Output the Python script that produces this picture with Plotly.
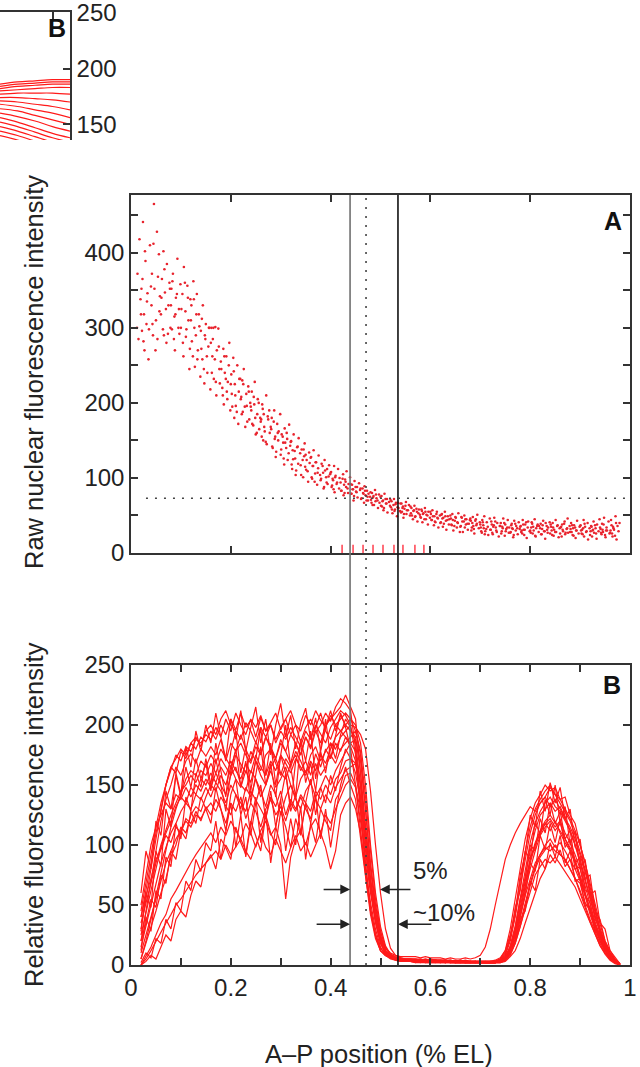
import plotly.graph_objects as go

FONT = "Liberation Sans, Arial, Helvetica, sans-serif"
W, H = 640, 1067

# ---------------- Panel A: raw nuclear fluorescence (one dot per nucleus) ----------------
# positions in thousandths of egg length
a_pos_milli = [
    12, 13, 15, 17, 19,
    21, 22, 24, 26, 27, 29, 31, 33, 35, 38,
    41, 42, 44, 46, 47, 50, 52, 53, 56, 58,
    60, 62, 65, 66, 68, 71, 72, 75, 77, 79,
    81, 82, 84, 87, 88, 90, 93, 95, 96, 99,
    100, 103, 105, 106, 109, 110, 113, 115, 117, 119,
    121, 122, 125, 127, 128, 131, 132, 134, 137, 139,
    140, 143, 144, 147, 149, 150, 153, 155, 156, 159,
    161, 163, 164, 166, 169, 171, 172, 175, 177, 178,
    180, 183, 185, 186, 188, 191, 193, 194, 197, 199,
    201, 202, 205, 207, 208, 210, 213, 215, 216, 219,
    220, 223, 224, 226, 229, 231, 232, 235, 237, 239,
    241, 242, 245, 247, 248, 250, 253, 254, 257, 259,
    260, 263, 265, 266, 268, 271, 272, 275, 277, 278,
    281, 282, 284, 287, 289, 290, 293, 295, 296, 299,
    300, 302, 305, 307, 308, 311, 313, 314, 317, 319,
    321, 323, 324, 326, 329, 330, 333, 335, 336, 339,
    340, 342, 345, 347, 348, 351, 352, 355, 357, 358,
    361, 363, 364, 366, 369, 370, 373, 375, 376, 379,
    380, 382, 385, 386, 388, 391, 393, 394, 397, 399,
    401, 403, 404, 407, 408, 410, 413, 415, 417, 418,
    420, 422, 425, 426, 429, 431, 432, 435, 436, 439,
    441, 443, 444, 446, 448, 451, 453, 454, 457, 459,
    460, 462, 465, 467, 468, 470, 473, 475, 476, 479,
    481, 483, 484, 486, 489, 490, 492, 495, 497, 498,
    500, 503, 505, 506, 508, 511, 513, 514, 517, 519,
    521, 522, 524, 527, 529, 530, 533, 535, 536, 539,
    540, 543, 545, 546, 548, 551, 552, 555, 557, 559,
    561, 562, 565, 567, 568, 570, 573, 574, 577, 579,
    580, 583, 584, 586, 589, 591, 592, 595, 596, 599,
    601, 603, 604, 607, 608, 610, 613, 615, 616, 619,
    620, 622, 625, 626, 629, 631, 632, 635, 637, 638,
    641, 643, 644, 646, 649, 650, 653, 655, 656, 659,
    660, 663, 665, 667, 668, 671, 672, 675, 677, 679,
    681, 682, 685, 686, 688, 691, 693, 694, 697, 699,
    700, 703, 704, 707, 708, 710, 713, 715, 716, 719,
    720, 722, 725, 727, 728, 731, 733, 734, 737, 739,
    741, 743, 744, 746, 749, 750, 752, 755, 757, 758,
    760, 763, 764, 766, 768, 771, 772, 775, 777, 779,
    781, 782, 785, 787, 788, 790, 793, 795, 796, 799,
    800, 803, 805, 806, 809, 811, 812, 815, 817, 818,
    821, 823, 824, 826, 829, 830, 833, 835, 836, 839,
    840, 842, 845, 847, 848, 851, 852, 855, 857, 859,
    861, 863, 864, 866, 869, 870, 873, 875, 876, 879,
    880, 882, 885, 886, 888, 891, 893, 894, 897, 899,
    901, 903, 904, 907, 908, 910, 913, 915, 916, 919,
    920, 922, 925, 927, 928, 931, 933, 934, 937, 939,
    941, 943, 944, 946, 948, 951, 953, 954, 957, 959,
    960, 962, 965, 966, 968, 971, 973, 975, 977, 979,
    # second batch of nuclei
    20, 23, 25, 28, 32, 36,
    40, 43, 45, 49, 54, 57,
    61, 64, 67, 70, 74, 78,
    80, 83, 86, 89, 92, 97,
    101, 104, 108, 111, 114, 118,
    120, 124, 126, 130, 133, 136,
    141, 142, 146, 148, 152, 157,
    160, 162, 165, 168, 170, 176,
    181, 184, 187, 190, 192, 196,
    200, 203, 206, 209, 212, 217,
    221, 222, 225, 228, 233, 236,
    240, 243, 246, 249, 252, 256,
    261, 262, 264, 267, 270, 274,
    280, 283, 286, 288, 291, 294,
    301, 304, 306, 309, 312, 316,
    320, 322, 325, 328, 331, 334,
    341, 344, 346, 349, 350, 354,
    360, 362, 365, 368, 371, 374,
    381, 384, 387, 389, 392, 396,
    400, 402, 405, 406, 409, 412,
    421, 424, 427, 428, 430, 434,
    440, 442, 445, 447, 450, 452,
    461, 464, 466, 469, 472, 474,
    480, 482, 485, 487, 491, 494,
    501, 502, 504, 507, 510, 512,
    520, 523, 526, 528, 531, 534,
    541, 542, 544, 547, 550, 553,
    560, 563, 566, 569, 572, 576,
    581, 582, 585, 588, 590, 594,
    600, 602, 605, 609, 612, 614,
    621, 623, 624, 627, 630, 634,
    640, 642, 645, 648, 651, 654,
    661, 662, 664, 669, 670, 674,
    680, 683, 684, 687, 690, 692,
    701, 702, 705, 706, 709, 712,
    721, 723, 724, 726, 730, 732,
    740, 742, 745, 748, 751, 754,
    761, 762, 765, 767, 770, 774,
    780, 783, 784, 786, 789, 792,
    801, 802, 804, 807, 810, 814,
    820, 822, 825, 828, 831, 834,
    841, 843, 844, 846, 850, 854,
    860, 862, 865, 868, 871, 874,
    881, 883, 884, 887, 890, 892,
    900, 902, 905, 906, 909, 912,
    921, 923, 924, 926, 930, 932,
    940, 942, 945, 947, 950, 952,
    961, 963, 964, 967, 970, 972,
]
a_intensity = [
    300, 372, 285, 418, 338,
    352, 296, 441, 318, 270, 389, 305, 346, 258, 410,
    330, 372, 290, 465, 352, 310, 428, 285, 398, 342,
    318, 365, 402, 290, 347, 280, 385, 330, 360, 300,
    352, 298, 372, 315, 270, 340, 392, 300, 325, 358,
    300, 345, 262, 381, 322, 288, 356, 310, 245, 338,
    330, 282, 362, 300, 248, 318, 345, 270, 302, 235,
    296, 258, 330, 226, 285, 305, 240, 275, 300, 218,
    300, 262, 285, 232, 301, 210, 270, 299, 245, 226,
    255, 220, 272, 198, 240, 262, 205, 228, 280, 190,
    238, 212, 260, 180, 225, 196, 250, 172, 215, 232,
    205, 230, 188, 245, 168, 212, 196, 222, 178, 200,
    190, 215, 170, 198, 228, 158, 185, 205, 165, 180,
    175, 198, 150, 185, 162, 210, 145, 178, 190, 160,
    165, 180, 140, 190, 155, 128, 172, 150, 162, 185,
    131, 158, 147, 118, 166, 140, 152, 124, 171, 143,
    149, 112, 137, 158, 126, 104, 141, 119, 153, 133,
    117, 138, 101, 129, 146, 111, 124, 95, 134, 120,
    128, 99, 116, 137, 106, 121, 91, 113, 130, 104,
    97, 119, 107, 86, 124, 101, 112, 92, 117, 105,
    108, 90, 99, 116, 81, 103, 94, 112, 86, 100,
    94, 83, 105, 77, 98, 88, 109, 80, 92, 101,
    79, 91, 85, 70, 96, 82, 88, 74, 93, 84,
    86, 73, 80, 67, 89, 77, 83, 70, 79, 75,
    71, 80, 64, 76, 84, 69, 73, 60, 78, 67,
    75, 62, 70, 57, 79, 66, 72, 54, 68, 63,
    61, 69, 53, 72, 58, 65, 49, 67, 60, 56,
    66, 55, 62, 47, 59, 68, 52, 57, 64, 50,
    53, 60, 45, 57, 63, 49, 55, 42, 58, 51,
    48, 56, 41, 53, 60, 45, 51, 38, 55, 47,
    52, 44, 57, 37, 49, 41, 55, 46, 34, 50,
    40, 51, 35, 47, 55, 43, 31, 49, 38, 45,
    46, 37, 52, 30, 43, 48, 34, 40, 53, 28,
    35, 47, 28, 42, 50, 38, 45, 31, 39, 44,
    43, 30, 48, 36, 26, 45, 39, 51, 33, 41,
    38, 27, 44, 33, 49, 29, 41, 35, 24, 46,
    31, 42, 25, 37, 47, 34, 28, 40, 22, 36,
    40, 29, 35, 46, 23, 38, 32, 44, 27, 34,
    27, 39, 33, 21, 43, 30, 36, 25, 41, 32,
    36, 28, 44, 31, 24, 38, 20, 34, 42, 29,
    30, 41, 26, 35, 45, 22, 33, 38, 28, 36,
    39, 25, 32, 43, 29, 19, 36, 27, 34, 41,
    26, 35, 40, 23, 31, 44, 28, 37, 21, 33,
    34, 22, 38, 29, 42, 25, 32, 46, 27, 36,
    28, 40, 24, 33, 37, 20, 30, 43, 26, 35,
    37, 26, 31, 44, 22, 35, 29, 40, 18, 33,
    24, 36, 30, 42, 27, 33, 19, 38, 29, 45,
    32, 25, 39, 28, 47, 21, 34, 30, 42, 26,
    27, 44, 22, 35, 31, 49, 18, 36, 29, 40,
    # second batch of nuclei
    318, 365, 282, 402, 335, 298,
    355, 305, 412, 270, 368, 322,
    340, 298, 378, 325, 292, 352,
    330, 362, 285, 318, 345, 292,
    325, 280, 360, 298, 340, 272,
    310, 262, 338, 290, 258, 318,
    272, 312, 245, 290, 262, 300,
    280, 240, 300, 258, 228, 275,
    245, 210, 262, 232, 215, 250,
    225, 195, 242, 210, 188, 232,
    208, 185, 225, 195, 175, 215,
    195, 172, 208, 180, 160, 200,
    178, 155, 192, 168, 148, 182,
    168, 142, 175, 152, 135, 160,
    138, 155, 126, 147, 160, 133,
    148, 118, 125, 136, 110, 142,
    104, 124, 138, 115, 131, 109,
    127, 101, 116, 95, 121, 107,
    99, 116, 88, 110, 94, 102,
    107, 88, 97, 85, 101, 92,
    83, 99, 91, 80, 95, 86,
    92, 79, 85, 76, 88, 81,
    72, 86, 79, 83, 70, 75,
    81, 67, 74, 64, 78, 70,
    63, 76, 69, 60, 72, 66,
    71, 58, 64, 56, 67, 61,
    54, 66, 60, 52, 63, 57,
    62, 50, 56, 48, 59, 53,
    47, 58, 52, 45, 55, 50,
    55, 44, 49, 42, 52, 47,
    41, 52, 46, 39, 49, 44,
    50, 38, 44, 36, 47, 41,
    36, 48, 42, 34, 45, 39,
    46, 34, 40, 32, 43, 37,
    34, 29, 41, 37, 25, 32,
    31, 38, 27, 35, 42, 30,
    36, 26, 33, 40, 29, 34,
    28, 37, 32, 24, 39, 33,
    35, 30, 26, 38, 31, 41,
    27, 34, 39, 30, 23, 36,
    33, 25, 37, 29, 40, 31,
    38, 30, 24, 34, 28, 36,
    26, 35, 31, 39, 27, 33,
    32, 28, 37, 23, 34, 30,
    36, 30, 25, 33, 39, 28,
    29, 35, 22, 31, 37, 26,
    34, 27, 31, 38, 24, 30,
    30, 37, 26, 33, 23, 40,
]
threshold_level = 73
boundary_left = 0.439     # solid grey line
boundary_mid = 0.471      # dotted line
boundary_right = 0.535    # solid black line
rug_pos = [0.423, 0.445, 0.465, 0.485, 0.505, 0.527, 0.545, 0.569, 0.587]
rug_height = 11

# ---------------- Panel B: relative fluorescence profiles ----------------
b_pos = [0.02, 0.03, 0.04, 0.05, 0.06, 0.07, 0.08, 0.09, 0.10, 0.11, 0.12, 0.13, 0.14, 0.15,
         0.16, 0.17, 0.18, 0.19, 0.20, 0.21, 0.22, 0.23, 0.24, 0.25, 0.26, 0.27, 0.28, 0.29,
         0.30, 0.31, 0.32, 0.33, 0.34, 0.35, 0.36, 0.37, 0.38, 0.39, 0.40, 0.41, 0.42,
         0.43, 0.44, 0.45, 0.46, 0.47, 0.48, 0.49, 0.50, 0.51, 0.52, 0.53, 0.54, 0.55,
         0.56, 0.57, 0.58, 0.59, 0.60, 0.61, 0.62, 0.63, 0.64, 0.65, 0.66, 0.67, 0.68,
         0.69, 0.70, 0.71, 0.72,
         0.73, 0.74, 0.75, 0.76, 0.77, 0.78, 0.79, 0.80, 0.81, 0.82, 0.83, 0.84, 0.85,
         0.86, 0.87, 0.88, 0.89, 0.90, 0.91, 0.92, 0.93, 0.94, 0.95, 0.96, 0.97, 0.98]

profile_01 = [40, 62, 85, 110, 128, 150, 165, 160, 178, 172, 185, 180, 190, 186,
              195, 188, 200, 192, 205, 196, 210, 198, 204, 190, 206, 195, 200, 188, 198, 205, 192, 200, 186, 198, 205, 194, 200, 210, 203, 215, 222,
              218, 212, 180, 130, 85, 48, 25, 12, 8, 6, 5, 4, 4,
              4, 3, 4, 3, 3, 4, 3, 2, 3, 3, 2, 3, 2, 2, 3, 2, 3,
              3, 5, 12, 30, 55, 80, 105, 122, 135, 142, 150, 145, 148, 138, 140, 125, 118, 100, 85, 65, 48, 30, 18, 8, 3, 1]
profile_02 = [5, 18, 30, 45, 60, 72, 90, 100, 115, 110, 125, 132, 128, 140,
              150, 145, 158, 150, 165, 155, 148, 162, 152, 170, 158, 150, 165, 172, 160, 155, 168, 175, 162, 170, 158, 176, 165, 180, 172, 185, 178,
              190, 182, 170, 140, 100, 65, 38, 20, 10, 6, 5, 4, 3,
              3, 3, 2, 3, 2, 2, 3, 2, 2, 2, 3, 2, 2, 2, 2, 3, 2,
              2, 2, 4, 10, 22, 40, 62, 80, 95, 108, 115, 120, 112, 118, 105, 98, 88, 75, 60, 45, 32, 20, 12, 6, 2, 0]
profile_03 = [0, 8, 15, 25, 35, 42, 55, 62, 70, 78, 85, 92, 98, 105,
              110, 102, 115, 108, 120, 112, 105, 118, 110, 98, 112, 120, 108, 115, 100, 55, 90, 105, 112, 100, 115, 122, 110, 125, 118, 130, 140,
              150, 155, 148, 120, 88, 60, 35, 18, 9, 6, 4, 3, 3,
              3, 2, 3, 2, 2, 3, 2, 2, 3, 2, 2, 2, 2, 3, 2, 2, 2,
              2, 3, 6, 15, 28, 42, 58, 72, 85, 92, 98, 95, 100, 92, 88, 80, 72, 60, 48, 36, 26, 16, 10, 5, 2, 0]
profile_04 = [20, 45, 70, 95, 120, 138, 150, 165, 158, 170, 176, 168, 180, 174,
              182, 175, 188, 170, 185, 178, 192, 180, 170, 186, 176, 190, 182, 172, 188, 178, 168, 185, 175, 190, 180, 195, 185, 200, 205, 210, 215,
              225, 215, 205, 160, 110, 70, 40, 22, 12, 8, 6, 5, 5,
              5, 4, 5, 4, 4, 4, 3, 4, 3, 3, 4, 3, 3, 3, 3, 3, 3,
              3, 4, 8, 20, 40, 65, 88, 110, 125, 135, 140, 148, 142, 135, 128, 120, 108, 95, 80, 62, 45, 30, 18, 10, 4, 1]
profile_05 = [50, 75, 100, 115, 125, 135, 130, 142, 138, 148, 140, 150, 145, 155,
              148, 160, 150, 142, 158, 165, 150, 145, 162, 155, 140, 150, 162, 148, 155, 165, 150, 140, 155, 162, 150, 168, 158, 165, 175, 168, 180,
              185, 190, 195, 175, 130, 85, 50, 28, 15, 8, 6, 5, 4,
              4, 4, 3, 4, 3, 3, 3, 3, 3, 2, 3, 3, 2, 3, 2, 2, 2,
              2, 3, 5, 12, 25, 45, 68, 88, 100, 110, 118, 112, 120, 110, 102, 95, 85, 72, 58, 42, 30, 20, 12, 6, 2, 0]
profile_06 = [30, 55, 80, 105, 130, 150, 162, 175, 170, 182, 178, 188, 185, 192,
              188, 198, 190, 205, 195, 210, 200, 192, 205, 198, 208, 195, 202, 210, 196, 205, 212, 200, 195, 208, 200, 212, 204, 198, 208, 200, 205,
              210, 205, 200, 185, 150, 100, 60, 32, 16, 9, 6, 5, 4,
              4, 4, 4, 3, 4, 3, 3, 3, 3, 3, 3, 2, 3, 2, 3, 2, 2,
              3, 4, 7, 15, 32, 55, 80, 102, 118, 128, 135, 140, 132, 128, 120, 112, 100, 88, 72, 56, 40, 26, 15, 8, 3, 1]
profile_07 = [0, 5, 12, 20, 28, 35, 42, 50, 55, 62, 68, 75, 80, 85,
              90, 95, 88, 100, 92, 98, 105, 95, 88, 100, 110, 98, 92, 105, 95, 85, 98, 108, 95, 102, 90, 100, 110, 98, 80, 95, 125,
              135, 140, 130, 110, 80, 52, 30, 15, 8, 5, 4, 3, 3,
              3, 2, 2, 2, 2, 2, 2, 2, 2, 2, 2, 2, 2, 2, 2, 2, 2,
              2, 2, 4, 8, 18, 32, 48, 62, 75, 82, 88, 85, 90, 84, 78, 72, 65, 55, 45, 35, 25, 16, 9, 4, 1, 0]
profile_08 = [35, 52, 68, 85, 100, 112, 125, 135, 145, 150, 158, 152, 162, 158,
              168, 160, 172, 165, 158, 175, 168, 160, 178, 170, 162, 175, 180, 168, 158, 172, 165, 178, 170, 160, 175, 182, 170, 178, 185, 180, 190,
              195, 200, 198, 192, 180, 145, 100, 60, 30, 14, 8, 6, 5,
              5, 5, 4, 5, 4, 4, 4, 4, 3, 4, 3, 3, 3, 3, 3, 3, 3,
              4, 6, 12, 25, 45, 70, 95, 115, 130, 138, 145, 150, 142, 138, 130, 122, 112, 100, 85, 68, 50, 34, 20, 10, 4, 1]
profile_09 = [10, 25, 40, 55, 70, 85, 95, 105, 112, 120, 115, 125, 122, 130,
              135, 128, 140, 132, 125, 142, 135, 128, 145, 138, 130, 122, 140, 132, 145, 125, 138, 130, 142, 135, 128, 145, 138, 150, 142, 155, 160,
              170, 172, 160, 135, 100, 68, 40, 20, 10, 6, 5, 4, 3,
              3, 3, 3, 2, 3, 2, 2, 3, 2, 2, 2, 2, 2, 2, 2, 2, 2,
              2, 3, 6, 14, 28, 48, 70, 88, 102, 112, 120, 125, 118, 112, 105, 96, 86, 74, 60, 46, 33, 22, 13, 6, 2, 0]
profile_10 = [45, 70, 92, 115, 135, 150, 165, 172, 180, 175, 185, 190, 182, 195,
              200, 192, 205, 212, 200, 195, 188, 202, 195, 185, 198, 190, 200, 185, 195, 188, 198, 190, 182, 195, 188, 200, 192, 185, 198, 205, 212,
              208, 200, 175, 125, 80, 45, 24, 12, 8, 6, 5, 5, 4,
              4, 4, 3, 4, 3, 3, 3, 3, 3, 3, 3, 2, 3, 3, 2, 2, 2,
              3, 4, 6, 14, 30, 52, 75, 95, 112, 125, 130, 135, 128, 132, 122, 115, 105, 92, 78, 60, 44, 28, 16, 8, 3, 1]
profile_11 = [15, 32, 50, 68, 85, 98, 110, 118, 128, 135, 130, 142, 138, 148,
              140, 152, 145, 135, 150, 142, 130, 148, 140, 155, 145, 132, 150, 142, 125, 140, 150, 138, 130, 145, 152, 140, 148, 158, 150, 162, 170,
              178, 185, 188, 170, 128, 82, 48, 25, 12, 7, 5, 4, 4,
              4, 3, 3, 3, 3, 3, 3, 2, 3, 2, 2, 3, 2, 2, 2, 2, 2,
              2, 3, 5, 10, 20, 35, 52, 68, 82, 92, 100, 105, 98, 102, 95, 88, 80, 70, 58, 45, 34, 24, 15, 8, 3, 0]
profile_12 = [25, 45, 62, 80, 98, 110, 120, 132, 140, 135, 148, 142, 155, 150,
              160, 152, 165, 158, 170, 162, 155, 168, 160, 175, 165, 158, 170, 162, 175, 168, 160, 172, 165, 158, 170, 162, 175, 168, 180, 190, 195,
              200, 195, 190, 160, 115, 72, 42, 22, 14, 10, 8, 7, 7,
              7, 7, 6, 7, 6, 6, 6, 5, 6, 5, 5, 6, 5, 6, 8, 15, 30,
              50, 70, 88, 100, 110, 118, 125, 132, 128, 135, 140, 132, 138, 130, 122, 112, 100, 85, 70, 55, 40, 28, 18, 10, 4, 1]
profile_13 = [5, 20, 38, 58, 78, 98, 115, 130, 142, 155, 162, 158, 170, 165,
              175, 168, 180, 172, 165, 178, 185, 175, 168, 182, 175, 190, 180, 172, 185, 178, 192, 185, 175, 190, 182, 198, 210, 195, 188, 200, 195,
              190, 185, 178, 150, 105, 65, 36, 18, 10, 6, 5, 4, 4,
              4, 3, 4, 3, 3, 3, 3, 3, 2, 3, 2, 2, 3, 2, 2, 2, 2,
              2, 3, 5, 12, 26, 45, 66, 85, 100, 110, 118, 122, 115, 120, 110, 102, 92, 80, 66, 50, 36, 24, 14, 7, 2, 0]
profile_14 = [40, 58, 72, 88, 96, 108, 102, 115, 110, 122, 118, 128, 120, 132,
              125, 138, 130, 118, 135, 128, 140, 122, 135, 128, 115, 130, 138, 125, 132, 120, 135, 128, 140, 130, 122, 138, 130, 142, 135, 148, 155,
              162, 165, 168, 150, 115, 78, 45, 24, 12, 7, 5, 4, 4,
              4, 3, 3, 3, 3, 3, 2, 3, 2, 2, 2, 2, 2, 2, 2, 2, 2,
              2, 3, 4, 9, 18, 32, 50, 66, 80, 90, 96, 100, 95, 92, 88, 80, 72, 62, 50, 38, 28, 18, 10, 5, 2, 0]
profile_15 = [12, 40, 28, 62, 55, 90, 82, 118, 105, 140, 128, 160, 148, 172,
              150, 185, 162, 140, 178, 195, 160, 182, 145, 170, 198, 158, 185, 150, 175, 200, 165, 140, 188, 170, 195, 155, 180, 205, 172, 190, 210,
              198, 180, 150, 112, 75, 45, 26, 14, 9, 7, 6, 5, 5,
              5, 5, 4, 4, 5, 4, 4, 3, 4, 3, 3, 4, 3, 3, 3, 3, 3,
              3, 5, 10, 22, 48, 62, 95, 88, 120, 108, 138, 125, 150, 118, 132, 100, 112, 80, 88, 58, 62, 35, 30, 12, 6, 1]
profile_16 = [2, 10, 6, 22, 18, 38, 30, 52, 45, 70, 62, 88, 78, 102,
              95, 120, 88, 112, 135, 98, 125, 90, 118, 140, 102, 128, 85, 115, 138, 95, 122, 100, 132, 88, 118, 142, 105, 130, 98, 125, 150,
              165, 150, 138, 105, 72, 42, 22, 12, 8, 6, 5, 4, 4,
              4, 4, 3, 3, 4, 3, 3, 3, 3, 2, 3, 2, 2, 3, 2, 2, 2,
              2, 3, 5, 12, 20, 38, 45, 70, 62, 88, 80, 102, 90, 108, 85, 95, 70, 72, 50, 48, 28, 25, 12, 8, 3, 0]
profile_17 = [28, 60, 48, 95, 82, 130, 115, 160, 142, 182, 165, 195, 178, 200,
              185, 210, 190, 172, 205, 188, 212, 178, 198, 215, 185, 205, 175, 200, 218, 190, 208, 180, 202, 214, 188, 206, 178, 198, 212, 195, 208,
              200, 205, 195, 178, 140, 95, 55, 28, 14, 9, 7, 6, 5,
              5, 5, 5, 4, 5, 4, 4, 4, 4, 3, 4, 3, 3, 3, 3, 3, 3,
              3, 4, 9, 24, 42, 75, 92, 125, 115, 145, 128, 152, 135, 148, 122, 130, 98, 105, 72, 75, 45, 38, 20, 12, 5, 1]
profile_18 = [0, 3, 8, 5, 15, 25, 20, 38, 45, 40, 58, 70, 65, 85,
              92, 80, 105, 98, 88, 115, 102, 92, 120, 108, 95, 125, 110, 100, 128, 115, 98, 122, 108, 135, 118, 102, 130, 120, 112, 138, 145,
              158, 160, 150, 128, 95, 62, 38, 20, 11, 7, 5, 4, 4,
              4, 3, 3, 3, 3, 3, 3, 2, 3, 2, 2, 2, 2, 2, 2, 2, 2,
              2, 2, 3, 7, 12, 22, 35, 48, 60, 72, 80, 92, 85, 96, 82, 88, 72, 68, 52, 45, 30, 22, 12, 6, 2, 0]
profile_19 = [60, 95, 80, 120, 108, 145, 130, 158, 140, 165, 148, 172, 155, 168,
              145, 172, 150, 128, 162, 180, 148, 170, 135, 158, 182, 150, 168, 140, 175, 160, 132, 170, 185, 152, 168, 145, 178, 160, 185, 172, 192,
              205, 198, 185, 150, 108, 68, 40, 22, 12, 8, 6, 5, 5,
              5, 4, 4, 5, 4, 4, 3, 4, 3, 3, 3, 3, 3, 2, 3, 2, 2,
              2, 3, 6, 16, 32, 55, 72, 100, 95, 122, 110, 135, 118, 128, 105, 112, 85, 90, 62, 60, 38, 30, 16, 9, 3, 0]
profile_20 = [20, 35, 55, 48, 75, 68, 95, 88, 112, 105, 128, 118, 140, 130,
              118, 148, 130, 112, 142, 155, 125, 140, 108, 135, 150, 122, 145, 115, 138, 160, 128, 142, 110, 135, 155, 125, 148, 135, 158, 145, 165,
              180, 172, 168, 140, 102, 66, 38, 20, 11, 7, 6, 5, 4,
              4, 4, 3, 4, 3, 3, 3, 3, 2, 3, 3, 2, 2, 2, 2, 2, 2,
              2, 3, 5, 10, 24, 40, 58, 85, 78, 108, 96, 118, 102, 122, 98, 105, 80, 82, 58, 52, 32, 26, 14, 7, 2, 0]
profiles = [profile_01, profile_02, profile_03, profile_04, profile_05, profile_06, profile_07,
            profile_08, profile_09, profile_10, profile_11, profile_12, profile_13, profile_14,
            profile_15, profile_16, profile_17, profile_18, profile_19, profile_20]

# arrows marking the 5% and ~10% widths (x positions in EL, levels in panel-B units)
arrow5_level = 63
arrow5_left_tail, arrow5_right_tip, arrow5_right_tail = 0.383, 0.499, 0.563
arrow10_level = 34
arrow10_left_tail, arrow10_right_tail = 0.369, 0.605
label5_pos, label5_level = 0.561, 79
label10_pos, label10_level = 0.561, 44

# ---------------- Inset fragment (top-left corner) ----------------
inset_x = [0, 0.25, 0.5, 0.75, 1.0]
inset_curves = [
    [186, 188, 189, 190, 190],
    [184, 186, 187, 188, 188],
    [182, 184, 185, 186, 186],
    [180, 181, 182, 183, 183],
    [177, 178, 178, 178, 177],
    [174, 174, 173, 172, 170],
    [171, 170, 168, 166, 163],
    [168, 166, 163, 160, 156],
    [164, 162, 158, 154, 150],
    [160, 157, 153, 148, 144],
    [156, 152, 147, 142, 138],
    [152, 148, 143, 138, 134],
    [148, 144, 139, 134, 130],
    [144, 140, 135, 130, 126],
    [140, 136, 131, 126, 122],
]

# ---------------- Figure ----------------
def py(p):  # pixel row -> paper y
    return 1 - p / H

def pxx(p):  # pixel column -> paper x
    return p / W

RED = "#ff1a1a"
fig = go.Figure()

fig.add_trace(go.Scatter(
    x=[v / 1000 for v in a_pos_milli], y=a_intensity, mode="markers",
    marker=dict(size=2.6, color="#e8232d", line=dict(width=0)),
    xaxis="x", yaxis="y", hoverinfo="skip"))

rx, ry = [], []
for r in rug_pos:
    rx += [r, r, None]
    ry += [0, rug_height, None]
fig.add_trace(go.Scatter(x=rx, y=ry, mode="lines", line=dict(color="#ff3040", width=1.4),
                         xaxis="x", yaxis="y", hoverinfo="skip"))

for prof in profiles:
    fig.add_trace(go.Scatter(x=b_pos, y=prof, mode="lines", line=dict(color=RED, width=1.2),
                             xaxis="x2", yaxis="y2", hoverinfo="skip"))

for c in inset_curves:
    fig.add_trace(go.Scatter(x=inset_x, y=c, mode="lines", line=dict(color=RED, width=1.2, shape="spline"),
                             xaxis="x3", yaxis="y3", hoverinfo="skip"))

tickfont = dict(family=FONT, size=24, color="#222")
common = dict(showline=True, linecolor="#333", linewidth=1.5, ticks="inside", tickcolor="#333",
              tickwidth=1.5, ticklen=7, showgrid=False, zeroline=False, tickfont=tickfont,
              automargin=False, ticklabeloverflow="allow")

xdom = [pxx(131), pxx(630)]
fig.update_layout(
    template="none",
    width=W, height=H, margin=dict(l=0, r=0, t=0, b=0, pad=0),
    paper_bgcolor="white", plot_bgcolor="white", showlegend=False,
    xaxis=dict(domain=xdom, range=[0, 1], anchor="y", mirror="ticks",
               tickvals=[0, 0.2, 0.4, 0.6, 0.8, 1.0], showticklabels=False, **common),
    yaxis=dict(domain=[py(553), py(195)], range=[0, 477], anchor="x", mirror="ticks",
               tickvals=[0, 50, 100, 150, 200, 250, 300, 350, 400, 450],
               ticktext=["0", "", "100", "", "200", "", "300", "", "400", ""], **common),
    xaxis2=dict(domain=xdom, range=[0, 1], anchor="y2", mirror="ticks",
                tickvals=[0, 0.1, 0.2, 0.3, 0.4, 0.5, 0.6, 0.7, 0.8, 0.9, 1.0],
                ticktext=["0", "", "0.2", "", "0.4", "", "0.6", "", "0.8", "", "1"], **common),
    yaxis2=dict(domain=[py(965), py(665)], range=[0, 250], anchor="x2", mirror="ticks",
                tickvals=[0, 50, 100, 150, 200, 250], **common),
    xaxis3=dict(domain=[0, pxx(70)], range=[0, 1], anchor="y3", side="top",
                tickvals=[0.757], showticklabels=False, **common),
    yaxis3=dict(domain=[py(140), py(12)], range=[136, 250.6], anchor="x3", side="right",
                tickvals=[150, 200, 250], **common),
)

# vertical boundary lines crossing both panels
shapes = [
    dict(type="line", xref="x", yref="paper", x0=boundary_left, x1=boundary_left,
         y0=py(965), y1=py(195), line=dict(color="#707070", width=1.6)),
    dict(type="line", xref="x", yref="paper", x0=boundary_mid, x1=boundary_mid,
         y0=py(965), y1=py(195), line=dict(color="#444", width=1.6, dash="2px,7px")),
    dict(type="line", xref="x", yref="paper", x0=boundary_right, x1=boundary_right,
         y0=py(965), y1=py(195), line=dict(color="#111", width=1.6)),
    dict(type="line", xref="x domain", yref="y", x0=0.03, x1=1.0,
         y0=threshold_level, y1=threshold_level, line=dict(color="#444", width=1.6, dash="2px,7px")),
]
fig.update_layout(shapes=shapes)

ann = []
def arrow(tip, tail, level):
    return dict(xref="x2", yref="y2", axref="x2", ayref="y2", x=tip, y=level, ax=tail, ay=level,
                text="", showarrow=True, arrowhead=2, arrowsize=1.3, arrowwidth=1.5, arrowcolor="#222")
ann += [arrow(boundary_left, arrow5_left_tail, arrow5_level),
        arrow(arrow5_right_tip, arrow5_right_tail, arrow5_level),
        arrow(boundary_left, arrow10_left_tail, arrow10_level),
        arrow(boundary_right, arrow10_right_tail, arrow10_level)]
lab = dict(family=FONT, size=24, color="#222")
ann += [dict(xref="x2", yref="y2", x=label5_pos, y=label5_level, text="5%", showarrow=False,
             xanchor="left", yanchor="middle", font=lab),
        dict(xref="x2", yref="y2", x=label10_pos, y=label10_level, text="~10%", showarrow=False,
             xanchor="left", yanchor="middle", font=lab)]
bold = dict(family=FONT, size=25, color="#111")
ann += [dict(xref="paper", yref="paper", x=pxx(613), y=py(221), text="<b>A</b>", showarrow=False,
             xanchor="center", yanchor="middle", font=bold),
        dict(xref="paper", yref="paper", x=pxx(612), y=py(685), text="<b>B</b>", showarrow=False,
             xanchor="center", yanchor="middle", font=bold),
        dict(xref="paper", yref="paper", x=pxx(57), y=py(28), text="<b>B</b>", showarrow=False,
             xanchor="center", yanchor="middle", font=bold)]
title_font = dict(family=FONT, size=25.5, color="#222")
ann += [dict(xref="paper", yref="paper", x=pxx(34), y=py(372), text="Raw nuclear fluorescence intensity",
             textangle=-90, showarrow=False, xanchor="center", yanchor="middle", font=title_font),
        dict(xref="paper", yref="paper", x=pxx(34), y=py(815), text="Relative fluorescence intensity",
             textangle=-90, showarrow=False, xanchor="center", yanchor="middle", font=title_font),
        dict(xref="paper", yref="paper", x=pxx(379), y=py(1054), text="A\u2013P position (% EL)",
             showarrow=False, xanchor="center", yanchor="middle", font=title_font)]
fig.update_layout(annotations=ann)

fig.write_html("out.html")
